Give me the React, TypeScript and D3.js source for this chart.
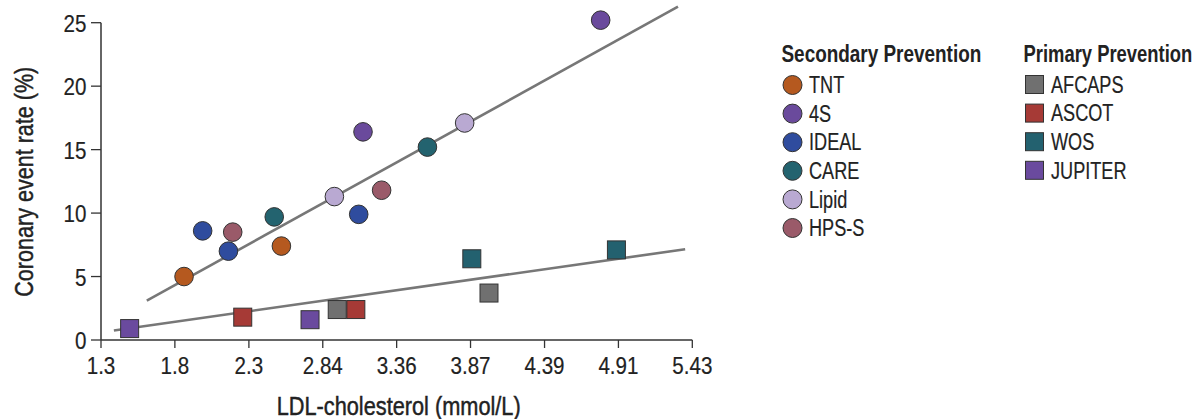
import React from "react";
import * as d3 from "d3";

// ---- data ----
const secondaryStudies = ["TNT", "4S", "IDEAL", "CARE", "Lipid", "HPS-S"];
const secondaryColors = ["#B5591F", "#6A4A9C", "#2F4C9E", "#23636F", "#B9A9D2", "#9A5A69"];
const secondaryX = [
  [1.88, 2.56],
  [3.13, 4.79],
  [2.01, 2.19, 3.10],
  [2.51, 3.58],
  [2.93, 3.84],
  [2.22, 3.26],
];
const secondaryY = [
  [5.0, 7.4],
  [16.4, 25.2],
  [8.6, 7.0, 9.9],
  [9.7, 15.2],
  [11.3, 17.1],
  [8.5, 11.8],
];

const primaryStudies = ["AFCAPS", "ASCOT", "WOS", "JUPITER"];
const primaryColors = ["#707070", "#A63A36", "#23616F", "#6A4A9E"];
const primaryX = [
  [2.95, 4.01],
  [2.29, 3.08],
  [3.89, 4.9],
  [1.5, 2.76],
];
const primaryY = [
  [2.4, 3.7],
  [1.8, 2.4],
  [6.4, 7.1],
  [0.9, 1.6],
];

// fitted trend lines (endpoints)
const secondaryFit: [number, number][] = [
  [1.62, 3.1],
  [5.33, 26.26],
];
const primaryFit: [number, number][] = [
  [1.39, 0.75],
  [5.38, 7.15],
];

const xTickValues = [1.3, 1.816, 2.333, 2.849, 3.365, 3.881, 4.398, 4.914, 5.43];
const xTickLabels = ["1.3", "1.8", "2.3", "2.84", "3.36", "3.87", "4.39", "4.91", "5.43"];
const yTickValues = [0, 5, 10, 15, 20, 25];

const FONT = "'Liberation Sans', Arial, Helvetica, sans-serif";
const TEXT = "#222";

function T(props: {
  x: number;
  y: number;
  sx: number;
  size: number;
  anchor?: string;
  weight?: string | number;
  children: React.ReactNode;
}) {
  return (
    <text
      transform={`translate(${props.x},${props.y}) scale(${props.sx},1)`}
      textAnchor={props.anchor || "start"}
      fontSize={props.size}
      fontWeight={props.weight || "normal"}
      fill={TEXT}
      stroke={props.weight ? "none" : TEXT}
      strokeWidth={0.2}
    >
      {props.children}
    </text>
  );
}

export default function App() {
  const W = 1201;
  const H = 419;
  const x = d3.scaleLinear().domain([1.3, 5.43]).range([101, 692.3]);
  const y = d3.scaleLinear().domain([0, 25]).range([340, 22.7]);
  const line = d3
    .line<[number, number]>()
    .x((d) => x(d[0]))
    .y((d) => y(d[1]));

  const axisColor = "#333";
  const r = 9.3;
  const sq = 18;

  return (
    <svg
      width={W}
      height={H}
      style={{ position: "absolute", left: 0, top: 0, background: "#fff" }}
      fontFamily={FONT}
    >
      {/* axes */}
      <line x1={x(1.3)} x2={x(5.43)} y1={y(0)} y2={y(0)} stroke={axisColor} strokeWidth={1.5} />
      <line x1={x(1.3)} x2={x(1.3)} y1={y(0)} y2={y(25)} stroke={axisColor} strokeWidth={1.5} />
      {xTickValues.map((v, i) => (
        <g key={"xt" + i}>
          <line x1={x(v)} x2={x(v)} y1={y(0)} y2={y(0) + 8} stroke={axisColor} strokeWidth={1.3} />
          <T x={x(v)} y={373.5} sx={0.84} size={24.5} anchor="middle">
            {xTickLabels[i]}
          </T>
        </g>
      ))}
      {yTickValues.map((v, i) => (
        <g key={"yt" + i}>
          <line x1={x(1.3) - 10} x2={x(1.3)} y1={y(v)} y2={y(v)} stroke={axisColor} strokeWidth={1.3} />
          <T x={x(1.3) - 14.5} y={y(v) + 9} sx={0.84} size={24.5} anchor="end">
            {v}
          </T>
        </g>
      ))}
      <text
        transform={`translate(32.5, 181.7) rotate(-90)`}
        textAnchor="middle"
        fontSize={25.5}
        fill={TEXT}
        stroke={TEXT}
        strokeWidth={0.45}
        textLength={230}
        lengthAdjust="spacingAndGlyphs"
      >
        Coronary event rate (%)
      </text>
      <text
        x={398.7}
        y={415}
        textAnchor="middle"
        fontSize={25.5}
        fill={TEXT}
        stroke={TEXT}
        strokeWidth={0.45}
        textLength={244}
        lengthAdjust="spacingAndGlyphs"
      >
        LDL-cholesterol (mmol/L)
      </text>

      {/* trend lines */}
      <path d={line(secondaryFit) || ""} stroke="#777" strokeWidth={2.6} fill="none" />
      <path d={line(primaryFit) || ""} stroke="#777" strokeWidth={2.6} fill="none" />

      {/* secondary prevention points */}
      {secondaryStudies.map((s, i) =>
        secondaryX[i].map((xv, j) => (
          <circle
            key={s + j}
            cx={x(xv)}
            cy={y(secondaryY[i][j])}
            r={r}
            fill={secondaryColors[i]}
            stroke="#333"
            strokeWidth={1}
          />
        ))
      )}
      {/* primary prevention points */}
      {primaryStudies.map((s, i) =>
        primaryX[i].map((xv, j) => (
          <rect
            key={s + j}
            x={x(xv) - sq / 2}
            y={y(primaryY[i][j]) - sq / 2}
            width={sq}
            height={sq}
            fill={primaryColors[i]}
            stroke="#333"
            strokeWidth={1}
          />
        ))
      )}

      {/* legend: secondary */}
      <T x={781.5} y={62} sx={0.773} size={24.5} weight="bold">
        Secondary Prevention
      </T>
      {secondaryStudies.map((s, i) => (
        <g key={"ls" + s}>
          <circle cx={792.5} cy={85 + i * 28.6} r={9.5} fill={secondaryColors[i]} stroke="#333" strokeWidth={1} />
          <T x={809} y={85 + i * 28.6 + 8.2} sx={0.74} size={24.5}>
            {s}
          </T>
        </g>
      ))}
      {/* legend: primary */}
      <T x={1023.5} y={62} sx={0.752} size={24.5} weight="bold">
        Primary Prevention
      </T>
      {primaryStudies.map((s, i) => (
        <g key={"lp" + s}>
          <rect
            x={1025.5}
            y={84.5 + i * 28.6 - 9}
            width={18}
            height={18}
            fill={primaryColors[i]}
            stroke="#333"
            strokeWidth={1}
          />
          <T x={1051} y={84.5 + i * 28.6 + 8.2} sx={0.74} size={24.5}>
            {s}
          </T>
        </g>
      ))}
    </svg>
  );
}
